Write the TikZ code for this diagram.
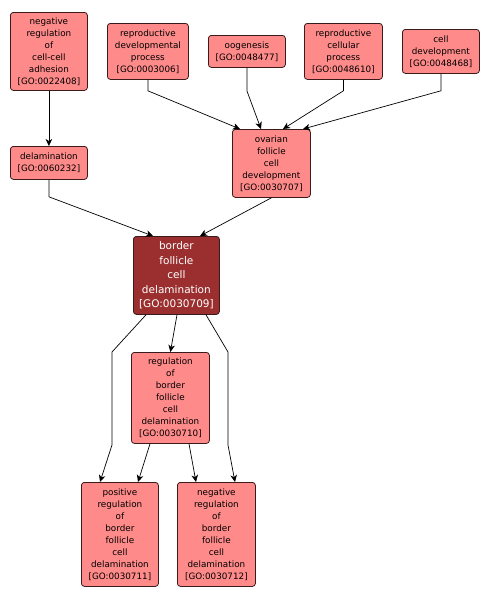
\documentclass[tikz,border=0pt]{standalone}
\usepackage{fontspec}
\setmainfont{DejaVu Sans}
\usetikzlibrary{arrows.meta}
\definecolor{boxfill}{HTML}{FF8A8A}
\definecolor{boxedge}{HTML}{3A1A1A}
\definecolor{mainfill}{HTML}{9B2F2F}
\begin{document}
\begin{tikzpicture}[x=1pt,y=-1pt,
  gobox/.style={draw=boxedge, fill=boxfill, rounded corners=3pt, line width=0.8pt,
    anchor=north west, inner sep=0pt, align=center,
    font=\fontsize{8.8}{12}\selectfont, text=black},
  mainbox/.style={gobox, fill=mainfill, text=white, font=\fontsize{10.5}{14.5}\selectfont},
  conn/.style={draw=black, line width=0.7pt, -{Stealth[length=7pt,width=6.5pt,inset=2pt]}}]
\fill[white] (0,0) rectangle (489,598);
\useasboundingbox (0,0) rectangle (489,598);

\node[gobox, minimum width=77pt, minimum height=78pt] (A) at (10,12) {negative\\regulation\\of\\cell-cell\\adhesion\\{[GO:0022408]}};
\node[gobox, minimum width=81pt, minimum height=56pt] (B) at (107,23) {reproductive\\developmental\\process\\{[GO:0003006]}};
\node[gobox, minimum width=77pt, minimum height=32pt] (C) at (208,35) {oogenesis\\{[GO:0048477]}};
\node[gobox, minimum width=78pt, minimum height=56pt] (D) at (304,23) {reproductive\\cellular\\process\\{[GO:0048610]}};
\node[gobox, minimum width=77pt, minimum height=44pt] (E) at (402,29) {cell\\development\\{[GO:0048468]}};
\node[gobox, minimum width=77pt, minimum height=33pt] (F) at (10,146) {delamination\\{[GO:0060232]}};
\node[gobox, minimum width=78pt, minimum height=68pt] (G) at (232,129) {ovarian\\follicle\\cell\\development\\{[GO:0030707]}};
\node[mainbox, minimum width=86pt, minimum height=78pt] (H) at (133,236) {border\\follicle\\cell\\delamination\\{[GO:0030709]}};
\node[gobox, minimum width=78pt, minimum height=91pt] (I) at (131,352) {regulation\\of\\border\\follicle\\cell\\delamination\\{[GO:0030710]}};
\node[gobox, minimum width=77pt, minimum height=104pt] (J) at (81,482) {positive\\regulation\\of\\border\\follicle\\cell\\delamination\\{[GO:0030711]}};
\node[gobox, minimum width=78pt, minimum height=104pt] (K) at (177,482) {negative\\regulation\\of\\border\\follicle\\cell\\delamination\\{[GO:0030712]}};

\draw[conn] (A.south) -- (F.north);
\draw[conn] (B.south) -- ++(0,11) -- ([xshift=8pt]G.north west);
\draw[conn] (C.south) -- ++(0,23) -- ([xshift=29pt]G.north west);
\draw[conn] (D.south) -- ++(0,11) -- ([xshift=51pt]G.north west);
\draw[conn] (E.south) -- ++(0,17) -- ([xshift=71pt]G.north west);
\draw[conn] (F.south) -- ++(0,17) -- ([xshift=20pt]H.north west);
\draw[conn] (G.south) -- ([xshift=67pt]H.north west);
\draw[conn] ([xshift=13pt]H.south west) -- (112,352) -- (112,445) -- ([xshift=19pt]J.north west);
\draw[conn] ([xshift=44pt]H.south west) -- (I.north);
\draw[conn] ([xshift=73pt]H.south west) -- (228,352) -- (228,445) -- ([xshift=58pt]K.north west);
\draw[conn] ([xshift=19pt]I.south west) -- ([xshift=57pt]J.north west);
\draw[conn] ([xshift=58pt]I.south west) -- ([xshift=19pt]K.north west);
\end{tikzpicture}
\end{document}
